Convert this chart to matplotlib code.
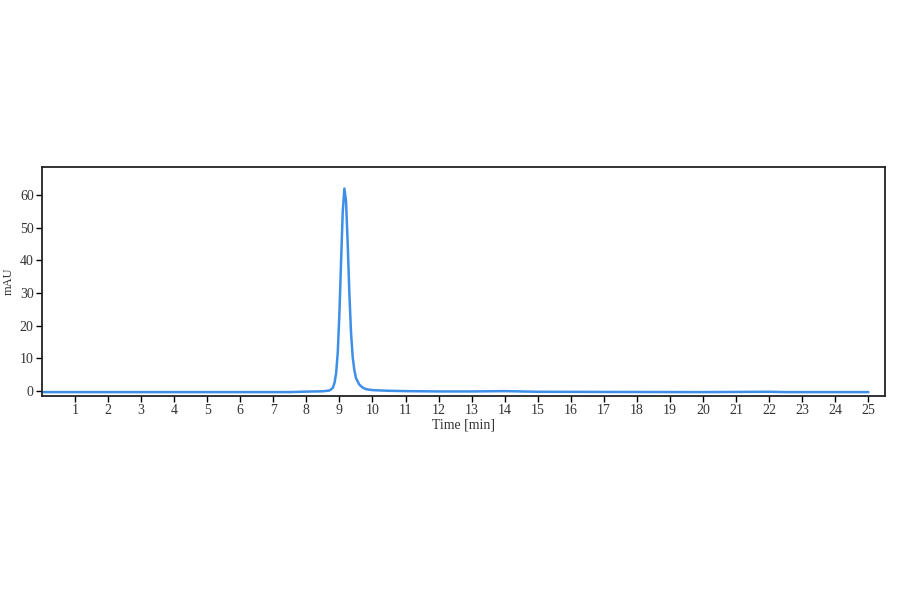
#!/usr/bin/env python3
# cromatograma: un solo pico cerca de 9.15 min
import matplotlib
matplotlib.use('Agg')
import matplotlib.pyplot as plt

# puntos (tiempo en min, señal en mAU)
tiempo = [0.0, 3.0, 6.0, 7.5, 8.0, 8.5, 8.7, 8.8, 8.85, 8.9, 8.95, 9.0, 9.05,
          9.1, 9.15, 9.2, 9.25, 9.3, 9.35, 9.4, 9.45, 9.5, 9.6, 9.7, 9.8,
          10.0, 10.5, 11.0, 11.5, 12.0, 13.0, 14.0, 15.0, 17.0, 20.0, 22.0,
          22.5, 25.0]
senal = [-0.3, -0.3, -0.3, -0.3, -0.15, -0.05, 0.2, 1.0, 2.5, 5.5, 12.0, 24.0,
         40.0, 55.0, 62.0, 58.0, 45.0, 30.0, 18.0, 10.5, 6.5, 4.0, 2.0, 1.1,
         0.6, 0.3, 0.1, 0.0, -0.05, -0.1, -0.1, 0.0, -0.2, -0.25, -0.3, -0.2,
         -0.3, -0.3]

xticks = list(range(1, 26))
yticks = [0, 10, 20, 30, 40, 50, 60]

plt.rcParams['font.family'] = ['Liberation Serif', 'DejaVu Serif']

fig = plt.figure(figsize=(9, 5.94), dpi=100)
ax = fig.add_axes([0.0467, 0.3333, 0.9363, 0.3856])

ax.plot(tiempo, senal, color='#3d8fe8', linewidth=1.8)

ax.set_xlim(0, 25.5)
ax.set_ylim(-1.5, 68.6)
ax.set_xticks(xticks)
ax.set_yticks(yticks)
ax.tick_params(axis='both', direction='out', length=4, width=1, labelsize=10,
               labelcolor='#333333', pad=2)

for spine in ax.spines.values():
    spine.set_linewidth(1.3)
    spine.set_color('#222222')

ax.set_xlabel('Time [min]', fontsize=10, color='#333333', labelpad=1)
ax.set_ylabel('mAU', fontsize=9, color='#333333', labelpad=4)

fig.savefig('out.png', dpi=100)
